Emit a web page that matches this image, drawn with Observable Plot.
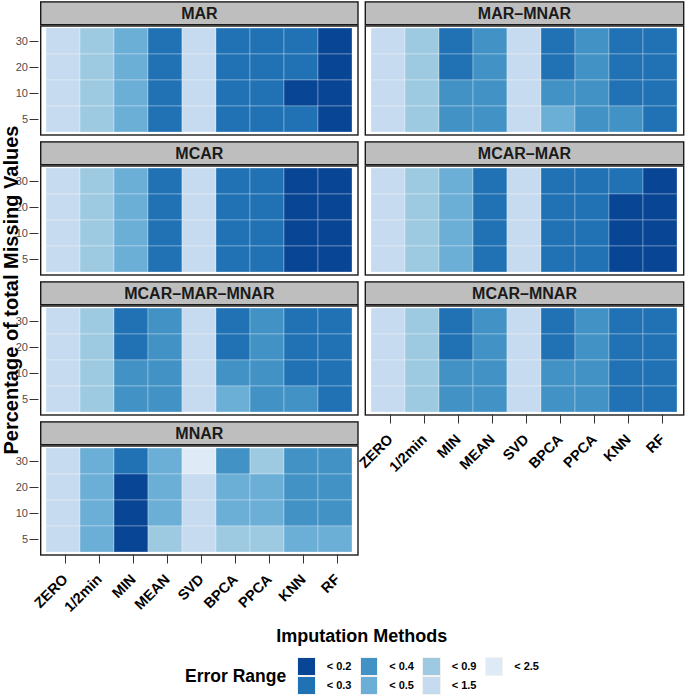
<!DOCTYPE html>
<html>
<head>
<meta charset="utf-8">
<script src="https://cdn.jsdelivr.net/npm/d3@7"></script>
<script src="https://cdn.jsdelivr.net/npm/@observablehq/plot@0.6"></script>
<style>
  body { margin: 0; background: white; }
  #root { position: relative; width: 685px; height: 696px; background: white; font-family: "Liberation Sans", Arial, sans-serif; overflow: hidden; }
  .abs { position: absolute; }
  .title { font-weight: bold; color: #000; white-space: nowrap; }
</style>
</head>
<body>
<div id="root"></div>
<script>
// ---- data ----
const methods = ["ZERO", "1/2min", "MIN", "MEAN", "SVD", "BPCA", "PPCA", "KNN", "RF"];
const levels = [30, 20, 10, 5];
const errorRanges = ["< 0.2", "< 0.3", "< 0.4", "< 0.5", "< 0.9", "< 1.5", "< 2.5"];
const blues = ["#084594", "#2171b5", "#4292c6", "#6baed6", "#9ecae1", "#c6dbef", "#deebf7"];
const mechanisms = ["MAR", "MAR–MNAR", "MCAR", "MCAR–MAR", "MCAR–MAR–MNAR", "MCAR–MNAR", "MNAR"];

// error range index (0 = "< 0.2" ... 6 = "< 2.5"); rows: 30, 20, 10, 5; columns: methods
const MAR = [
  [5, 4, 3, 1, 5, 1, 1, 1, 0],
  [5, 4, 3, 1, 5, 1, 1, 1, 0],
  [5, 4, 3, 1, 5, 1, 1, 0, 0],
  [5, 4, 3, 1, 5, 1, 1, 1, 0]
];
const MAR_MNAR = [
  [5, 4, 1, 2, 5, 1, 2, 1, 1],
  [5, 4, 1, 2, 5, 1, 2, 1, 1],
  [5, 4, 2, 2, 5, 2, 2, 1, 1],
  [5, 4, 2, 2, 5, 3, 2, 2, 1]
];
const MCAR = [
  [5, 4, 3, 1, 5, 1, 1, 0, 0],
  [5, 4, 3, 1, 5, 1, 1, 0, 0],
  [5, 4, 3, 1, 5, 1, 1, 0, 0],
  [5, 4, 3, 1, 5, 1, 1, 0, 0]
];
const MCAR_MAR = [
  [5, 4, 3, 1, 5, 1, 1, 1, 0],
  [5, 4, 3, 1, 5, 1, 1, 0, 0],
  [5, 4, 3, 1, 5, 1, 1, 0, 0],
  [5, 4, 3, 1, 5, 1, 1, 0, 0]
];
const MCAR_MAR_MNAR = [
  [5, 4, 1, 2, 5, 1, 2, 1, 1],
  [5, 4, 1, 2, 5, 1, 2, 1, 1],
  [5, 4, 2, 2, 5, 2, 2, 1, 1],
  [5, 4, 2, 2, 5, 3, 2, 2, 1]
];
const MCAR_MNAR = [
  [5, 4, 1, 2, 5, 1, 2, 1, 1],
  [5, 4, 1, 2, 5, 1, 2, 1, 1],
  [5, 4, 2, 2, 5, 2, 2, 1, 1],
  [5, 4, 2, 2, 5, 2, 2, 1, 1]
];
const MNAR = [
  [5, 3, 1, 3, 6, 2, 4, 2, 2],
  [5, 3, 0, 3, 5, 3, 3, 2, 2],
  [5, 3, 0, 3, 5, 3, 3, 2, 2],
  [5, 3, 0, 4, 5, 4, 4, 3, 3]
];
const panelCodes = [MAR, MAR_MNAR, MCAR, MCAR_MAR, MCAR_MAR_MNAR, MCAR_MNAR, MNAR];
const panelCol = [0, 1, 0, 1, 0, 1, 0];
const panelRow = [0, 0, 1, 1, 2, 2, 3];
const panelXAxis = [false, false, false, false, false, true, true];

// ---- drawing ----
const root = document.getElementById("root");
const FONT = "'Liberation Sans', Arial, sans-serif";
const CELLS_H = 104;
const MT = 28;

function panel(k) {
  const name = mechanisms[k], codes = panelCodes[k];
  const col = panelCol[k], row = panelRow[k], showX = panelXAxis[k];
  const data = [];
  levels.forEach((lv, i) => methods.forEach((m, j) =>
    data.push({mechanism: name, method: m, level: lv, range: errorRanges[codes[i][j]]})));
  const left = col === 0;
  const width = left ? 360 : 325;
  const marginLeft = left ? 42.7 : 7.3;
  const marginRight = left ? 5 : 4.3;
  const marginBottom = showX ? 85 : 6;
  const cellsTop = 28.3 + 139.8 * row;
  const svg = Plot.plot({
    width, height: MT + CELLS_H + marginBottom,
    marginLeft, marginRight, marginTop: MT, marginBottom,
    x: {type: "band", domain: methods, padding: 0, axis: null},
    y: {type: "band", domain: levels, padding: 0, axis: null},
    color: {domain: errorRanges, range: blues},
    style: {fontFamily: FONT, overflow: "visible", background: "transparent", color: "black"},
    marks: [
      Plot.cell(data, {x: "method", y: "level", fill: "range", stroke: "white", strokeOpacity: 0.3, strokeWidth: 1}),
      Plot.frame({stroke: "#1a1a1a", strokeWidth: 1.4, inset: -2.5}),
      Plot.frame({fill: "#bebebe", stroke: "#1a1a1a", strokeWidth: 1.4,
        insetLeft: -2.5, insetRight: -2.5, insetTop: -26.6, insetBottom: CELLS_H + 3.8}),
      Plot.text([name], {text: d => d, frameAnchor: "top", lineAnchor: "middle", dy: -14.5, fontSize: 16, fontWeight: "bold", fill: "#1a1a1a"}),
      left ? Plot.axisY({label: null, tickSize: 9, dx: -4.2, tickPadding: 2, fontSize: 11, fill: "#4d4d4d", stroke: "#333"}) : null,
      showX ? Plot.axisX({label: null, tickSize: 9, dy: 2.5, dx: 2, tickPadding: 13, tickRotate: -45, fontSize: 14.5, fontWeight: "bold", fill: "black", stroke: "#333"}) : null
    ]
  });
  const wrap = document.createElement("div");
  wrap.className = "abs";
  wrap.style.left = (left ? 0 : 360) + "px";
  wrap.style.top = (cellsTop - MT) + "px";
  wrap.appendChild(svg);
  root.appendChild(wrap);
}
mechanisms.forEach((_, k) => panel(k));

// axis titles
function addText(txt, css) {
  const d = document.createElement("div");
  d.className = "abs title";
  d.textContent = txt;
  Object.assign(d.style, css);
  root.appendChild(d);
  return d;
}
addText("Percentage of total Missing Values", {
  left: (11 - 200) + "px", top: (290 - 10) + "px", width: "400px", textAlign: "center",
  fontSize: "20px", lineHeight: "20px", transform: "rotate(-90deg)", transformOrigin: "50% 50%"
});
addText("Imputation Methods", {left: "361.7px", top: "625px", fontSize: "18px", lineHeight: "22px", transform: "translateX(-50%)"});

// legend
addText("Error Range", {left: "185px", top: "665px", fontSize: "17.5px", lineHeight: "22px"});
errorRanges.forEach((r, i) => {
  const c = Math.floor(i / 2), rr = i % 2;
  const key = document.createElement("div");
  key.className = "abs";
  Object.assign(key.style, {
    left: (297.3 + 62.5 * c) + "px", top: (656.7 + 19 * rr) + "px",
    width: "18.5px", height: "19px", background: blues[i], boxSizing: "border-box",
    border: "1px solid #f2f2f2"
  });
  root.appendChild(key);
  addText(r, {left: (326.7 + 62.5 * c) + "px", top: (656.7 + 19 * rr) + "px", fontSize: "11px", lineHeight: "19px"});
});
</script>
</body>
</html>
